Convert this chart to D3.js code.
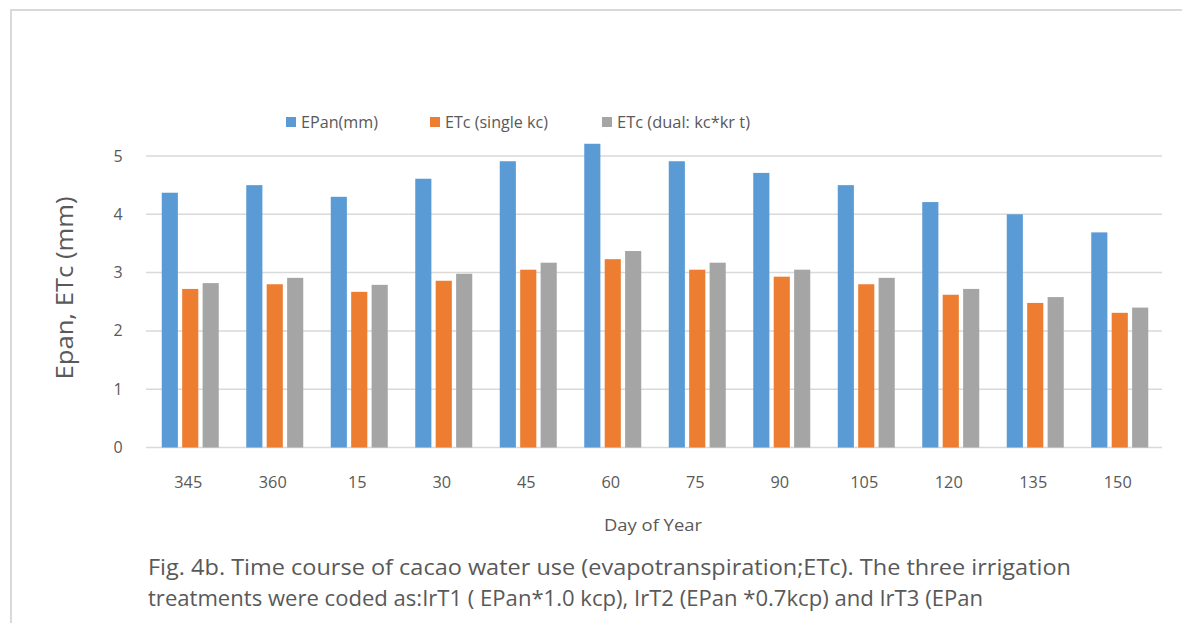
<!DOCTYPE html>
<html>
<head>
<meta charset="utf-8">
<script src="https://cdn.jsdelivr.net/npm/d3@7"></script>
<style>
  html, body { margin: 0; padding: 0; background: #fff; }
  svg { display: block; font-family: "Open Sans", "Noto Sans", sans-serif; }
</style>
</head>
<body>
<svg id="chart" width="1182" height="623"></svg>
<script>
const categories = ["345", "360", "15", "30", "45", "60", "75", "90", "105", "120", "135", "150"];
const seriesNames = ["EPan(mm)", "ETc (single kc)", "ETc (dual: kc*kr t)"];
const epan = [4.37, 4.50, 4.30, 4.61, 4.91, 5.21, 4.91, 4.71, 4.50, 4.21, 4.00, 3.69];
const etcSingle = [2.72, 2.80, 2.67, 2.86, 3.05, 3.23, 3.05, 2.93, 2.80, 2.62, 2.48, 2.31];
const etcDual = [2.82, 2.91, 2.79, 2.98, 3.17, 3.37, 3.17, 3.05, 2.91, 2.72, 2.58, 2.40];
const yTicks = [0, 1, 2, 3, 4, 5];
const colors = ["#5B9BD5", "#ED7D31", "#A5A5A5"];
const captionLines = [
  "Fig. 4b. Time course of cacao water use (evapotranspiration;ETc). The three irrigation",
  "treatments were coded as:IrT1 ( EPan*1.0 kcp), IrT2 (EPan *0.7kcp) and IrT3 (EPan"
];

const svg = d3.select("#chart");
const seriesData = [epan, etcSingle, etcDual];

// frame
svg.append("path")
  .attr("d", "M11,623 L11,10 L1182,10")
  .attr("fill", "none").attr("stroke", "#D9D9D9").attr("stroke-width", 2);

const x0 = d3.scaleBand().domain(categories).range([146, 1160]).paddingInner(0).paddingOuter(0);
const y = d3.scaleLinear().domain([0, 5]).range([447.5, 156]);
const innerW = 57;
const x1 = d3.scaleBand().domain(d3.range(3)).range([0, innerW]).paddingInner(4 / 19).paddingOuter(0);

// gridlines
svg.append("g").selectAll("line").data(yTicks).join("line")
  .attr("x1", 146).attr("x2", 1162)
  .attr("y1", d => y(d)).attr("y2", d => y(d))
  .attr("stroke", "#D9D9D9").attr("stroke-width", 1.5);

// y tick labels
svg.append("g").selectAll("text").data(yTicks).join("text")
  .attr("x", 118).attr("y", d => y(d) + 5.5)
  .attr("text-anchor", "middle")
  .attr("font-size", 16).attr("fill", "#595959")
  .text(d => d);

// bars
const groups = svg.append("g").selectAll("g").data(categories).join("g")
  .attr("transform", c => `translate(${x0(c) + (x0.bandwidth() - innerW) / 2 + 2},0)`);
groups.selectAll("rect").data((c, i) => seriesData.map((s, k) => ({ k, v: s[i] }))).join("rect")
  .attr("x", d => x1(d.k))
  .attr("width", x1.bandwidth())
  .attr("y", d => y(d.v))
  .attr("height", d => y(0) - y(d.v))
  .attr("fill", d => colors[d.k]);

// x labels
svg.append("g").selectAll("text").data(categories).join("text")
  .attr("x", c => x0(c) + x0.bandwidth() / 2)
  .attr("y", 488)
  .attr("text-anchor", "middle")
  .attr("font-size", 16).attr("fill", "#595959")
  .attr("textLength", c => c.length * 9.3).attr("lengthAdjust", "spacingAndGlyphs")
  .text(c => c);

// axis titles
svg.append("text")
  .attr("x", 653).attr("y", 531)
  .attr("text-anchor", "middle")
  .attr("font-size", 17).attr("fill", "#595959")
  .attr("textLength", 98).attr("lengthAdjust", "spacingAndGlyphs")
  .text("Day of Year");

svg.append("text")
  .attr("transform", "translate(73,288) rotate(-90)")
  .attr("text-anchor", "middle")
  .attr("font-size", 24).attr("fill", "#595959")
  .attr("textLength", 183).attr("lengthAdjust", "spacingAndGlyphs")
  .text("Epan, ETc (mm)");

// legend
const legendX = [286, 430, 602];
const legendW = [77, 103, 133];
const lg = svg.append("g").selectAll("g").data(seriesNames).join("g")
  .attr("transform", (d, i) => `translate(${legendX[i]},117)`);
lg.append("rect").attr("width", 10).attr("height", 10).attr("fill", (d, i) => colors[i]);
lg.append("text").attr("x", 15).attr("y", 11)
  .attr("font-size", 16).attr("fill", "#595959")
  .attr("textLength", (d, i) => legendW[i]).attr("lengthAdjust", "spacingAndGlyphs")
  .text(d => d);

// caption
svg.append("g").selectAll("text").data(captionLines).join("text")
  .attr("x", 148).attr("y", (d, i) => 575 + i * 31)
  .attr("font-size", 21).attr("fill", "#595959")
  .attr("textLength", (d, i) => i === 0 ? 923 : 835).attr("lengthAdjust", "spacingAndGlyphs")
  .text(d => d);
</script>
</body>
</html>
